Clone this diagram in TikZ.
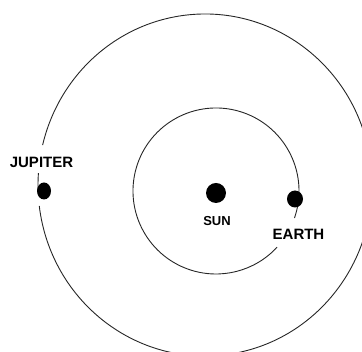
\documentclass[tikz,border=0pt]{standalone}
\usepackage{fontspec}
\setmainfont{Liberation Sans}
\usetikzlibrary{shapes.geometric}

\begin{document}
\begin{tikzpicture}[x=1pt, y=1pt,
    orbit/.style={line width=0.9pt, black!85},
    planet/.style={ellipse, fill=black, inner sep=0pt},
    label/.style={font=\bfseries\fontsize{15}{15}\selectfont, inner sep=1pt}]
  \def\W{362}
  \def\H{352}

  \useasboundingbox (0,0) rectangle (\W,\H);
  \clip (0,0) rectangle (\W,\H);

  % Outer orbit (Jupiter) --------------------------------------------------
  \coordinate (outer) at (205,167);
  \draw[orbit] ([shift={(187:167 and 171)}]outer)
    arc[start angle=187, end angle=526.5, x radius=167, y radius=171];
  \draw[orbit] ([shift={(176:167 and 171)}]outer)
    arc[start angle=176, end angle=182, x radius=167, y radius=171];

  % Inner orbit (Earth) ----------------------------------------------------
  \coordinate (inner) at (216,161);
  \draw[orbit] ([shift={(-19:83)}]inner)
    arc[start angle=-19, end angle=317.4, radius=83];

  % Bodies -----------------------------------------------------------------
  \node[planet, minimum width=20, minimum height=20] (sun) at (216,159) {};
  \node[planet, minimum width=14, minimum height=17] (jupiter) at (44,161) {};
  \node[planet, minimum width=16, minimum height=17] (earth) at (295,153) {};

  % Labels -----------------------------------------------------------------
  \node[label] (jupiterlabel) at (41.5,189.5) {JUPITER};
  \node[label, font=\bfseries\fontsize{13}{13}\selectfont] (sunlabel)
    at (217,130.5) {SUN};
  \node[label] (earthlabel) at (298.5,117.5) {EARTH};

\end{tikzpicture}
\end{document}
